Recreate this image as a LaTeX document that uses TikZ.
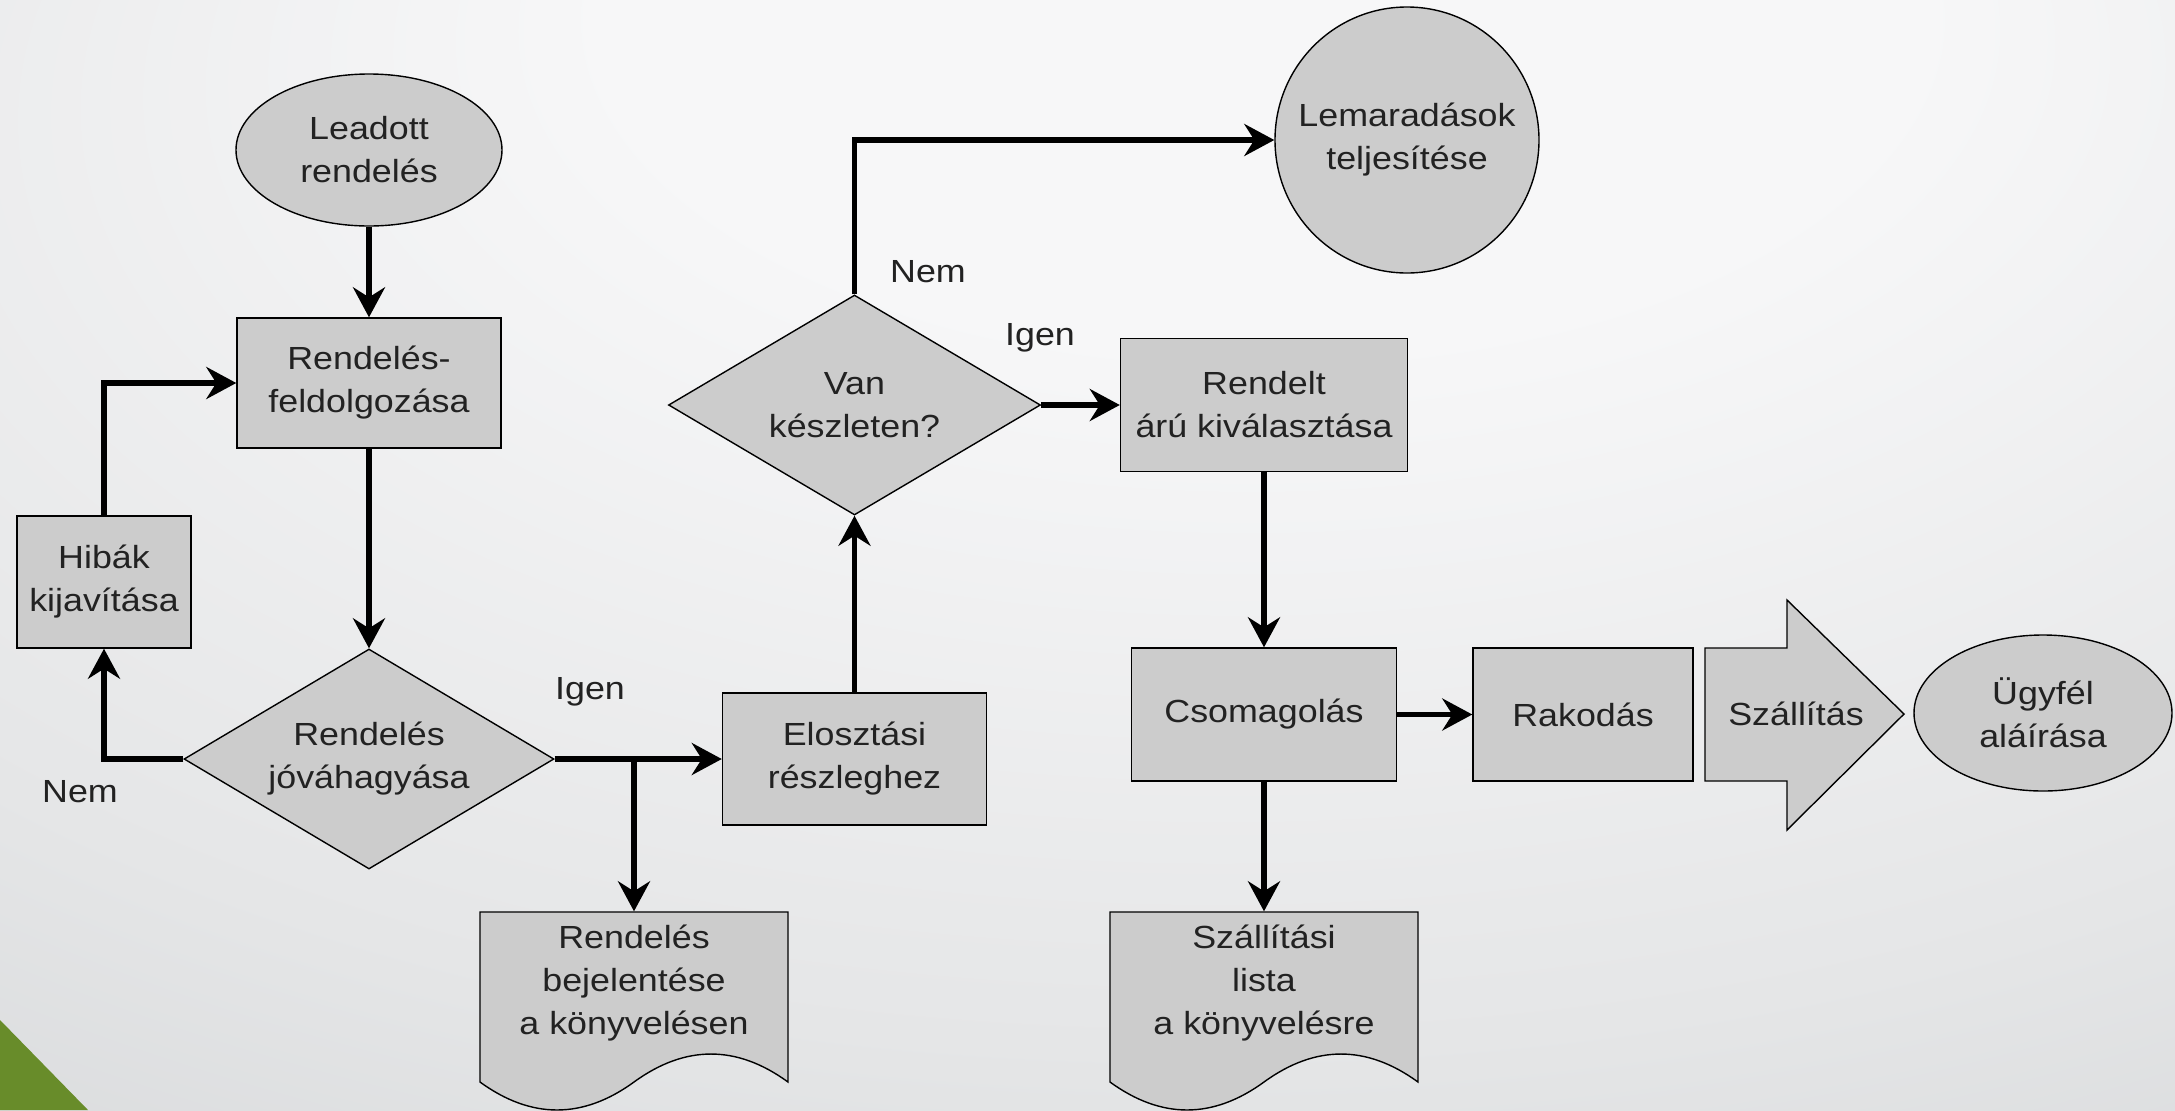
\documentclass[tikz,border=0pt]{standalone}
\usepackage{fontspec}
\setmainfont{Liberation Sans}[FakeStretch=1.12]
\usetikzlibrary{shapes.geometric,arrows.meta,calc}
\definecolor{boxfill}{RGB}{204,204,204}
\definecolor{txt}{RGB}{34,34,34}
\definecolor{leaf}{RGB}{104,140,42}
\definecolor{bgA}{RGB}{247,247,248}
\definecolor{bgB}{RGB}{229,230,231}
\definecolor{bgC}{RGB}{196,199,202}
\pgfdeclareradialshading{bgshade}{\pgfpoint{5bp}{30bp}}{color(0bp)=(bgA); color(15bp)=(bgA); color(38bp)=(bgB); color(68bp)=(bgC); color(80bp)=(bgC)}
\begin{document}
\begin{tikzpicture}[x=0.5pt,y=-0.5pt,
  base/.style={fill=boxfill, draw=black, line width=0.7pt, font=\fontsize{16}{21.5}\selectfont, text=txt, align=center, inner sep=0pt},
  proc/.style={base, rectangle},
  term/.style={base, ellipse},
  dec/.style={base, diamond, aspect=1.68},
  doctext/.style={base, draw=none, fill=none, rectangle},
  lbl/.style={font=\fontsize{16}{21.5}\selectfont, text=txt, inner sep=0pt},
  flow/.style={line width=2.6pt, -{Stealth[length=15pt,width=16pt,inset=5pt]}},
  docshape/.style={fill=boxfill, draw=black, line width=0.7pt}]
\useasboundingbox (0,0) rectangle (2175,1110);
\shade[shading=bgshade] (0,0) rectangle (2175,1110);
\fill[leaf] (0,1020) -- (88,1110) -- (0,1110) -- cycle;

% document shapes and big arrow (backgrounds)
\draw[docshape] (634,1082) .. controls (582.7,1119.3) and (531.3,1119.3) .. (480,1082) -- (480,912) -- (788,912) -- (788,1082) .. controls (736.7,1044.7) and (685.3,1044.7) .. cycle;
\draw[docshape] (1264,1082) .. controls (1212.7,1119.3) and (1161.3,1119.3) .. (1110,1082) -- (1110,912) -- (1418,912) -- (1418,1082) .. controls (1366.7,1044.7) and (1315.3,1044.7) .. cycle;
\draw[docshape] (1705,648) -- (1787,648) -- (1787,600) -- (1904,714) -- (1787,830) -- (1787,781) -- (1705,781) -- cycle;

% nodes
\node[term, minimum width=133pt, minimum height=76pt] (lead) at (369,150) {Leadott\\rendelés};
\node[proc, minimum width=132pt, minimum height=65pt] (feld) at (369,383) {Rendelés-\\feldolgozása};
\node[proc, minimum width=87pt, minimum height=66pt] (hib) at (104,582) {Hibák\\kijavítása};
\node[dec, minimum width=185pt, minimum height=110pt] (jova) at (369,759) {Rendelés\\jóváhagyása};
\node[proc, minimum width=132pt, minimum height=66pt] (elo) at (854.5,759) {Elosztási\\részleghez};
\node[doctext, minimum width=154pt, minimum height=71pt] (bej) at (634,983) {Rendelés\\bejelentése\\a könyvelésen};
\node[dec, minimum width=186pt, minimum height=110pt] (van) at (854.5,405) {Van\\készleten?};
\node[term, inner sep=-10pt, minimum width=132pt, minimum height=133pt] (lem) at (1407,140) {Lemaradások\\teljesítése};
\node[proc, minimum width=143.5pt, minimum height=66.5pt] (rendelt) at (1264,405) {Rendelt\\árú kiválasztása};
\node[proc, minimum width=132.5pt, minimum height=66.5pt] (csom) at (1264,714.5) {Csomagolás};
\node[proc, minimum width=110pt, minimum height=66.5pt] (rak) at (1583,714.5) {Rakodás};
\node[lbl] (szall) at (1796,714) {Szállítás};
\node[term, minimum width=129pt, minimum height=78pt] (ugy) at (2043,713) {Ügyfél\\aláírása};
\node[doctext, minimum width=154pt, minimum height=71pt] (lista) at (1264,983) {Szállítási\\lista\\a könyvelésre};

% labels
\node[lbl] (nem1) at (80,792) {Nem};
\node[lbl] (igen1) at (590,692) {Igen};
\node[lbl] (nem2) at (928,272) {Nem};
\node[lbl] (igen2) at (1040,338) {Igen};

% connectors
\draw[flow] (lead) -- (feld);
\draw[flow] (feld) -- (jova);
\draw[flow] (jova.west) -| (hib.south);
\draw[flow] (hib.north) |- (feld.west);
\draw[flow] (jova.east) -- (elo.west);
\coordinate (br) at (bej.north |- jova.east);
\draw[flow] (br) -- (bej.north);
\draw[flow] (elo.north) -- (van.south);
\draw[flow] (van.north) |- (lem.west);
\draw[flow] (van.east) -- (rendelt.west);
\draw[flow] (rendelt.south) -- (csom.north);
\draw[flow] (csom.east) -- (rak.west);
\draw[flow] (csom.south) -- (lista.north);
\end{tikzpicture}
\end{document}
